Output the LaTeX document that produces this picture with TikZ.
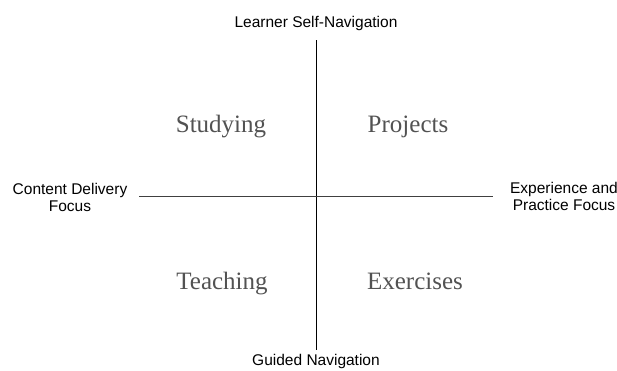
\documentclass[tikz,border=0pt]{standalone}
\usepackage{fontspec}
\setmainfont{Liberation Serif}
\setsansfont{Liberation Sans}
\usepackage[HTML]{xcolor}
\usepackage{tikz}
\usetikzlibrary{positioning}

\begin{document}
\begin{tikzpicture}[x=1pt,y=-1pt,
  axislabel/.style={font=\sffamily\fontsize{15.5}{17}\selectfont,inner sep=0pt,align=center},
  quadrant/.style={font=\rmfamily\fontsize{25}{30}\selectfont,text=black!68,inner sep=0pt,anchor=base}]
\useasboundingbox (0,0) rectangle (617,370);

\coordinate (top) at (316,40);
\coordinate (bottom) at (316,350);
\coordinate (left) at (139,196);
\coordinate (right) at (493,196);

\node[axislabel,anchor=base] (n) at (316,27) {Learner Self-Navigation};
\node[axislabel,anchor=base] (s) at (316,365) {Guided Navigation};
\node[axislabel] (w) at (70,197) {Content Delivery\\Focus};
\node[axislabel] (e) at (564,196) {Experience and\\Practice Focus};

\node[quadrant] (st) at (221,132) {Studying};
\node[quadrant] (pr) at (408,132) {Projects};
\node[quadrant] (te) at (222,289) {Teaching};
\node[quadrant] (ex) at (415,289) {Exercises};

\draw[line width=0.8pt] (top)--(bottom);
\draw[line width=0.8pt,black!75] (left)--(right);
\end{tikzpicture}
\end{document}
